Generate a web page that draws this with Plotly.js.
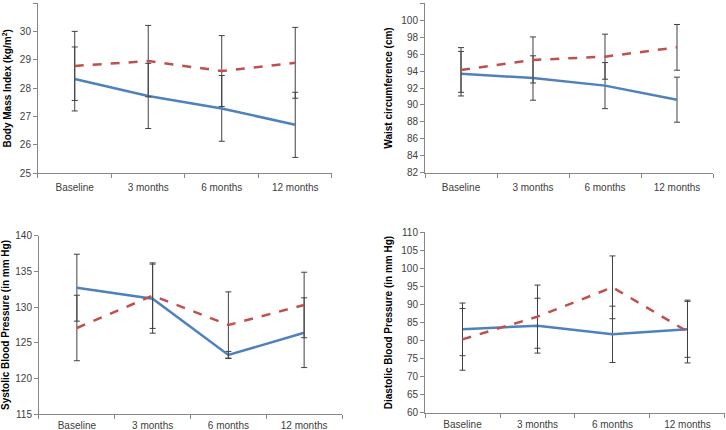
<!DOCTYPE html>
<html><head><meta charset="utf-8">
<script src="https://cdn.plot.ly/plotly-3.0.1.min.js"></script>
<style>html,body{margin:0;padding:0;background:#fff}#chart{width:726px;height:430px}</style>
</head><body><div id="chart"></div>
<script>
var timepoints = ["Baseline", "3 months", "6 months", "12 months"];

var bmiBlue = [28.33, 27.73, 27.29, 26.71];
var bmiBlueSD = [1.13, 1.15, 1.16, 1.15];
var bmiRed = [28.79, 28.96, 28.61, 28.9];
var bmiRedSD = [1.22, 1.26, 1.25, 1.25];

var waistBlue = [93.69, 93.18, 92.28, 90.62];
var waistBlueSD = [2.63, 2.62, 2.72, 2.66];
var waistRed = [94.13, 95.31, 95.7, 96.8];
var waistRedSD = [2.64, 2.72, 2.66, 2.7];

var sbpBlue = [132.74, 131.2, 123.29, 126.42];
var sbpBlueSD = [4.7, 4.85, 0.5, 4.9];
var sbpRed = [127.08, 131.62, 127.5, 130.31];
var sbpRedSD = [4.6, 4.6, 4.65, 4.6];

var dbpBlue = [83.1, 84.12, 81.72, 83.1];
var dbpBlueSD = [7.3, 7.6, 7.8, 7.75];
var dbpRed = [80.33, 86.62, 94.75, 82.5];
var dbpRedSD = [8.55, 8.75, 8.7, 8.7];

var BLUE = "#4F81BD", RED = "#C0504D", ERR = "#404040";

function pair(yb, sb, yr, sr, xa, ya) {
  return [
    {x: timepoints, y: yb, type: "scatter", mode: "lines", xaxis: xa, yaxis: ya,
     line: {color: BLUE, width: 2.5},
     error_y: {type: "data", array: sb, visible: true, color: ERR, thickness: 1, width: 3}},
    {x: timepoints, y: yr, type: "scatter", mode: "lines", xaxis: xa, yaxis: ya,
     line: {color: RED, width: 2.5, dash: "dash"},
     error_y: {type: "data", array: sr, visible: true, color: ERR, thickness: 1, width: 3}}
  ];
}

var data = [].concat(
  pair(bmiBlue, bmiBlueSD, bmiRed, bmiRedSD, "x", "y"),
  pair(waistBlue, waistBlueSD, waistRed, waistRedSD, "x2", "y2"),
  pair(sbpBlue, sbpBlueSD, sbpRed, sbpRedSD, "x3", "y3"),
  pair(dbpBlue, dbpBlueSD, dbpRed, dbpRedSD, "x4", "y4")
);

var tickFont = {family: "Liberation Sans, Arial, sans-serif", size: 10, color: "#404040"};
var titleFont = {family: "Liberation Sans, Arial, sans-serif", size: 10, color: "#000", weight: "bold"};

function xax(dom, anchor, standoff) {
  return {domain: dom, anchor: anchor, type: "category", range: [-0.5, 3.5], tickson: "boundaries",
    ticks: "outside", ticklen: 4, tickcolor: "#868686", showline: true, linecolor: "#868686",
    linewidth: 1, showgrid: false, zeroline: false, tickfont: tickFont, ticklabelstandoff: standoff};
}
function yax(dom, anchor, rng, dtick, title) {
  return {domain: dom, anchor: anchor, range: rng, dtick: dtick, ticks: "outside", ticklen: 4,
    tickcolor: "#868686", showline: true, linecolor: "#868686", linewidth: 1, showgrid: false,
    zeroline: false, tickfont: tickFont, title: {text: title, font: titleFont, standoff: 6}};
}

var layout = {
  width: 726, height: 430, margin: {l: 0, r: 0, t: 0, b: 0},
  paper_bgcolor: "#fff", plot_bgcolor: "#fff", showlegend: false,
  xaxis: xax([0.0523, 0.4573], "y", 5),
  yaxis: yax([0.597, 0.9923], "x", [25, 31], 1, "Body Mass Index (kg/m<sup>2</sup>)"),
  xaxis2: xax([0.5854, 0.9821], "y2", 5),
  yaxis2: yax([0.5984, 0.9923], "x2", [82, 102], 2, "Waist circumference (cm)"),
  xaxis3: xax([0.0537, 0.4711], "y3", 2),
  yaxis3: yax([0.0372, 0.4512], "x3", [115, 140], 5, "Systolic Blood Pressure (in mm Hg)"),
  xaxis4: xax([0.5854, 0.9986], "y4", 2),
  yaxis4: yax([0.0402, 0.4598], "x4", [60, 110], 5, "Diastolic Blood Pressure (in mm Hg)")
};

Plotly.newPlot("chart", data, layout, {displayModeBar: false, staticPlot: true});
</script></body></html>
